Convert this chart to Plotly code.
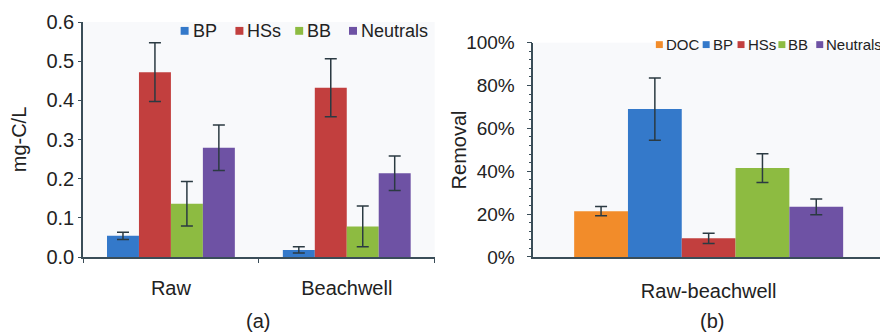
import plotly.graph_objects as go

# ---------------- data ----------------
sites = ["Raw", "Beachwell"]
fractions_a = ["BP", "HSs", "BB", "Neutrals"]
conc_mean = {
    "BP":       [0.054, 0.018],
    "HSs":      [0.472, 0.432],
    "BB":       [0.136, 0.078],
    "Neutrals": [0.279, 0.214],
}
conc_err = {
    "BP":       [0.009, 0.008],
    "HSs":      [0.075, 0.074],
    "BB":       [0.057, 0.052],
    "Neutrals": [0.058, 0.044],
}

comparison = ["Raw-beachwell"]
fractions_b = ["DOC", "BP", "HSs", "BB", "Neutrals"]
removal_mean = [0.214, 0.690, 0.087, 0.415, 0.234]
removal_err = [0.022, 0.145, 0.024, 0.067, 0.037]

y_ticks_a = [0.0, 0.1, 0.2, 0.3, 0.4, 0.5, 0.6]
y_ticks_b = [0.0, 0.2, 0.4, 0.6, 0.8, 1.0]

colors = {
    "DOC": "#f28c2a",
    "BP": "#3479ca",
    "HSs": "#c23f3e",
    "BB": "#8dbb41",
    "Neutrals": "#6e52a4",
}

# ---------------- layout geometry (screen pixels; page body has an 8px margin) ----------------
OFF = 8
W, H = 888 - OFF, 334 - OFF
PLOT_L, PLOT_R, PLOT_T, PLOT_B = 80, 884, 18, 257   # screen px
ML, MR = PLOT_L - OFF, (W + OFF) - PLOT_R
MT, MB = PLOT_T - OFF, (H + OFF) - PLOT_B
PW, PH = PLOT_R - PLOT_L, PLOT_B - PLOT_T


def px_x(p):
    return (p - PLOT_L) / PW


def px_y(p):
    return (PLOT_B - p) / PH


FONT = "Liberation Sans, Arial, sans-serif"
TXT = "#222222"
AX = "#3a4d58"
ERR = "#2b3a42"

fig = go.Figure()

for f in fractions_a:
    fig.add_trace(go.Bar(
        x=sites, y=conc_mean[f], name=f,
        marker=dict(color=colors[f], line=dict(width=0)),
        error_y=dict(type="data", array=conc_err[f], color=ERR, thickness=1.5, width=6),
        xaxis="x", yaxis="y", showlegend=False,
    ))

for f, m, e in zip(fractions_b, removal_mean, removal_err):
    fig.add_trace(go.Bar(
        x=comparison, y=[m], name=f,
        marker=dict(color=colors[f], line=dict(width=0)),
        error_y=dict(type="data", array=[e], color=ERR, thickness=1.5, width=6),
        xaxis="x2", yaxis="y2", showlegend=False,
    ))

bargap = 0.273
# right panel: group width 270 px inside a 352 px axis
unit_b = 270 / (1 - bargap)
half_b = (884 - 532) / unit_b / 2

axis_common = dict(showgrid=False, zeroline=False, showline=True, linecolor=AX,
                   linewidth=1.5, tickcolor=AX, tickwidth=1.2)

fig.update_layout(
    width=W, height=H,
    margin=dict(l=ML, r=MR, t=MT, b=MB),
    paper_bgcolor="white", plot_bgcolor="#f8f9fb",
    barmode="group", bargap=bargap, bargroupgap=0,
    font=dict(family=FONT, color=TXT),
    xaxis=dict(domain=[0, px_x(433)], anchor="y", type="category",
               range=[-0.5, 1.5], tickson="boundaries", ticks="outside", ticklen=4,
               ticklabelstandoff=12, tickfont=dict(family=FONT, size=20, color=TXT),
               **axis_common),
    yaxis=dict(domain=[0, 1], anchor="x", range=[0, 0.6], tickvals=y_ticks_a,
               tickformat=".1f", ticks="outside", ticklen=3, ticklabelstandoff=0,
               tickfont=dict(family=FONT, size=20, color=TXT),
               title=dict(text="mg-C/L", font=dict(family=FONT, size=20, color=TXT), standoff=20),
               **axis_common),
    xaxis2=dict(domain=[px_x(532), 1], anchor="y2", type="category",
                range=[-half_b, half_b], ticks="", ticklabelstandoff=15,
                tickfont=dict(family=FONT, size=20, color=TXT), **axis_common),
    yaxis2=dict(domain=[0, px_y(39)], anchor="x2", range=[0, 1], tickvals=y_ticks_b,
                tickformat=".0%", ticks="outside", ticklen=5, ticklabelstandoff=8,
                tickfont=dict(family=FONT, size=19, color=TXT),
                minor=dict(dtick=0.04, ticks="outside", ticklen=3, tickcolor=AX),
                **axis_common),
)

# right-panel y-axis title
fig.add_annotation(text="Removal", textangle=-90, x=px_x(457), y=px_y(148),
                   xref="paper", yref="paper", xanchor="center", yanchor="middle",
                   showarrow=False, font=dict(family=FONT, size=20, color=TXT))

# panel captions
for cap, cx in (("(a)", 256), ("(b)", 711)):
    fig.add_annotation(text=cap, x=px_x(cx), y=px_y(322), xref="paper", yref="paper",
                       xanchor="center", yanchor="middle", showarrow=False,
                       font=dict(family=FONT, size=20, color=TXT))

# compact legends (square swatch + label)
legend_a_x = [178, 233, 293, 347]
legend_b_x = [655, 702, 737, 778, 816]


def add_legend(names, xs, yc, sq, gap, size):
    for n, x in zip(names, xs):
        fig.add_shape(type="rect", xref="paper", yref="paper",
                      x0=px_x(x), x1=px_x(x + sq), y0=px_y(yc + sq / 2), y1=px_y(yc - sq / 2),
                      fillcolor=colors[n], line=dict(width=0))
        fig.add_annotation(text=n, x=px_x(x + gap), y=px_y(yc), xref="paper", yref="paper",
                           xanchor="left", yanchor="middle", showarrow=False, borderpad=0,
                           font=dict(family=FONT, size=size, color=TXT))


add_legend(fractions_a, legend_a_x, 27, 8, 11, 18)
add_legend(fractions_b, legend_b_x, 41, 7, 9, 15)

fig.write_html("out.html")
